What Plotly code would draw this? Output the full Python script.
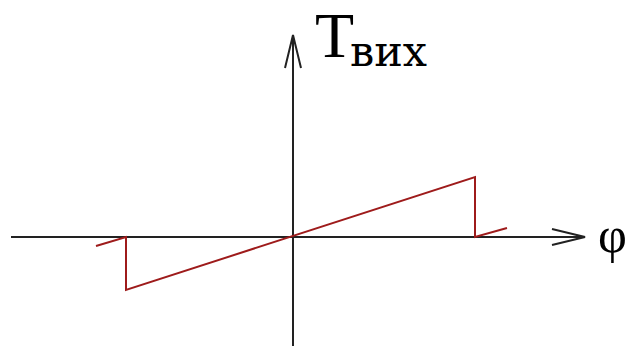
import plotly.graph_objects as go

# Sawtooth characteristic: output torque vs. angle
phi = [-197, -167, -167, 182, 182, 214]
t_out = [-9, 0, -53, 60, 0, 9]

# Coordinate frame (axis extents and arrow sizes)
X_MIN, X_MAX = -293, 334
Y_MIN, Y_MAX = -109, 237
AXIS_X_START, AXIS_X_END = -282, 292
AXIS_Y_END = 202
HEAD_LEN, HEAD_HALF = 33, 8

AXIS_COLOR = "#222222"
CURVE_COLOR = "#9e1b1b"

fig = go.Figure()

# Characteristic curve
fig.add_trace(go.Scatter(
    x=phi, y=t_out, mode="lines",
    line=dict(color=CURVE_COLOR, width=2),
    hoverinfo="skip", showlegend=False,
))

shapes = [
    # horizontal (phi) axis
    dict(type="line", x0=AXIS_X_START, y0=0, x1=AXIS_X_END, y1=0),
    # vertical (T) axis
    dict(type="line", x0=0, y0=Y_MIN, x1=0, y1=AXIS_Y_END),
    # open arrowhead on phi axis
    dict(type="path",
         path=f"M {AXIS_X_END - HEAD_LEN},{HEAD_HALF} L {AXIS_X_END},0 L {AXIS_X_END - HEAD_LEN},{-HEAD_HALF}"),
    # open arrowhead on T axis
    dict(type="path",
         path=f"M {-HEAD_HALF},{AXIS_Y_END - HEAD_LEN} L 0,{AXIS_Y_END} L {HEAD_HALF},{AXIS_Y_END - HEAD_LEN}"),
]
for s in shapes:
    s.update(xref="x", yref="y", line=dict(color=AXIS_COLOR, width=2), layer="below")
fig.update_layout(shapes=shapes)

serif = "Liberation Serif, Times New Roman, serif"
cyr_serif = "DejaVu Serif, serif"
fig.add_annotation(x=20, y=202, text="T", showarrow=False,
                   xanchor="left", yanchor="middle",
                   font=dict(family=serif, size=64, color="black"))
fig.add_annotation(x=55, y=186, text="вих", showarrow=False,
                   xanchor="left", yanchor="middle",
                   font=dict(family=cyr_serif, size=43, color="black"))
fig.add_annotation(x=303, y=2, text="φ", showarrow=False,
                   xanchor="left", yanchor="middle",
                   font=dict(family=serif, size=50, color="black"))

fig.update_layout(
    width=627, height=346,
    margin=dict(l=0, r=0, t=0, b=0),
    paper_bgcolor="white", plot_bgcolor="white",
    xaxis=dict(range=[X_MIN, X_MAX], visible=False, fixedrange=True),
    yaxis=dict(range=[Y_MIN, Y_MAX], visible=False, fixedrange=True),
    showlegend=False,
)

fig.write_html("out.html")
